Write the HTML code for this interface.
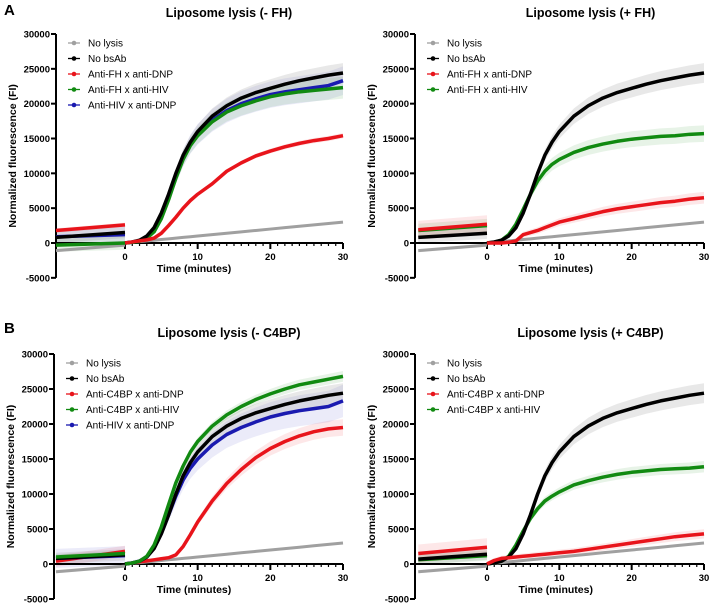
<!DOCTYPE html>
<html><head><meta charset="utf-8"><style>
body{margin:0;background:#fff;}
svg{display:block;font-family:"Liberation Sans",Arial,sans-serif;}
</style></head><body>
<svg id="fig" width="713" height="607" viewBox="0 0 713 607">
<text x="4" y="15" font-size="15" font-weight="bold">A</text>
<text x="4" y="333" font-size="15" font-weight="bold">B</text>
</svg>
<script>
const times=[0,1,2,3,4,5,6,7,8,9,10,12,14,16,18,20,22,24,26,28,30];
const preTimes=[-9.5,0];
const yTicks=[-5000,0,5000,10000,15000,20000,25000,30000];
const xTicks=[0,10,20,30];
const grayPre=[-1100,-300];
const grayPost=[0,100,200,300,400,500,600,700,800,900,1000,1200,1400,1600,1800,2000,2200,2400,2600,2800,3000];
const blackPost=[0,150,400,1000,2200,4300,7000,10000,12600,14500,16000,18200,19700,20800,21600,22200,22800,23300,23700,24100,24400];

// Panel A-left (-FH)
const aL_green=[0,100,250,700,1600,3500,6200,9300,12000,14000,15400,17400,18800,19700,20400,21000,21400,21700,21900,22100,22300];
const aL_blue=[0,120,300,800,1800,3800,6500,9500,12200,14200,15600,17600,19000,20000,20700,21300,21700,22000,22300,22600,23300];
const aL_red=[0,150,300,450,700,1400,2500,3700,5000,6100,7000,8500,10300,11500,12500,13200,13800,14300,14700,15000,15400];
// Panel A-right (+FH)
const aR_green=[0,100,400,1200,2700,4800,7000,8900,10300,11300,12000,13000,13700,14200,14600,14900,15100,15300,15400,15600,15700];
const aR_red=[0,0,0,100,300,1200,1500,1800,2200,2600,3000,3500,4000,4500,4900,5200,5500,5800,6000,6300,6500];
// Panel B-left (-C4BP)
const bL_green=[0,150,400,1100,2700,5300,8500,11600,14000,16000,17500,19700,21300,22500,23500,24300,25000,25600,26000,26400,26800];
const bL_blue=[0,150,400,1000,2300,4400,7000,9700,12000,13700,15000,17000,18500,19500,20300,21000,21500,21900,22200,22500,23300];
const bL_red=[0,150,300,450,600,750,900,1300,2500,4200,6000,9000,11500,13500,15200,16500,17500,18300,18900,19300,19500];
// Panel B-right (+C4BP)
const bR_green=[0,150,400,1100,2700,4700,6500,7900,9000,9700,10300,11300,11900,12400,12800,13100,13300,13500,13600,13700,13900];
const bR_red=[0,500,800,900,1000,1100,1200,1300,1400,1500,1600,1800,2100,2400,2700,3000,3300,3600,3900,4100,4300];

const C={gray:"#a0a0a0",black:"#000",red:"#e8141b",green:"#118a11",blue:"#1a1ab0"};
const BAND={gray:"rgba(160,160,160,0.15)",black:"rgba(150,150,150,0.22)",red:"rgba(232,20,27,0.10)",green:"rgba(17,138,17,0.10)",blue:"rgba(60,60,200,0.10)"};

const panels=[
 {name:"a-left",title:"Liposome lysis (- FH)",ax:56,x0:125,x30:343,y30:34,yz:243,
  legend:["No lysis","No bsAb","Anti-FH x anti-DNP","Anti-FH x anti-HIV","Anti-HIV x anti-DNP"],
  series:[["gray",grayPre,grayPost,300],["blue",[900,1200],aL_blue,1500],["green",[-300,0],aL_green,1200],["black",[800,1500],blackPost,1000],["red",[1800,2600],aL_red,400]]},
 {name:"a-right",title:"Liposome lysis (+ FH)",ax:415,x0:487,x30:704,y30:34,yz:243,
  legend:["No lysis","No bsAb","Anti-FH x anti-DNP","Anti-FH x anti-HIV"],
  series:[["gray",grayPre,grayPost,300],["green",[1800,2500],aR_green,1200],["black",[800,1400],blackPost,1000],["red",[1900,2700],aR_red,1600]]},
 {name:"b-left",title:"Liposome lysis (- C4BP)",ax:54,x0:125,x30:343,y30:354,yz:564,
  legend:["No lysis","No bsAb","Anti-C4BP x anti-DNP","Anti-C4BP x anti-HIV","Anti-HIV x anti-DNP"],
  series:[["gray",grayPre,grayPost,300],["red",[400,1800],bL_red,1000],["blue",[800,1200],bL_blue,1700],["black",[800,1300],blackPost,1000],["green",[1000,1500],bL_green,500]]},
 {name:"b-right",title:"Liposome lysis (+ C4BP)",ax:415,x0:487,x30:704,y30:354,yz:564,
  legend:["No lysis","No bsAb","Anti-C4BP x anti-DNP","Anti-C4BP x anti-HIV"],
  series:[["gray",grayPre,grayPost,300],["green",[600,1200],bR_green,900],["black",[700,1400],blackPost,1000],["red",[1500,2400],bR_red,1600]]}
];
const legendColors=["gray","black","red","green","blue"];
const NS="http://www.w3.org/2000/svg";
const svg=document.getElementById("fig");
function mk(tag,attrs,parent){const e=document.createElementNS(NS,tag);for(const k in attrs)e.setAttribute(k,attrs[k]);(parent||svg).appendChild(e);return e;}

panels.forEach(p=>{
 const g=mk("g",{});
 
 
 const sx=t=>p.x0+(p.x30-p.x0)*t/30;
 const sy=v=>p.yz+(p.y30-p.yz)*v/30000;
 const t=mk("text",{x:(p.x0+p.x30)/2-5,y:p.y30-17,"font-size":"12.5","font-weight":"bold","text-anchor":"middle"},g);
 t.textContent=p.title;
 
 
 p.series.forEach(s=>{
  const [col,pre,post,sd]=s;
  let up=[],dn=[];
  times.forEach((tt,i)=>{const e=sd*(0.2+post[i]/20000);up.push(sx(tt)+","+sy(post[i]+e));dn.unshift(sx(tt)+","+sy(post[i]-e));});
  const b=mk("polygon",{points:up.concat(dn).join(" "),fill:BAND[col]},g);
  
  
  const pu=preTimes.map((tt,i)=>sx(tt)+","+sy(pre[i]+sd*0.8)), pd=preTimes.map((tt,i)=>sx(tt)+","+sy(pre[i]-sd*0.8)).reverse();
  const b2=mk("polygon",{points:pu.concat(pd).join(" "),fill:BAND[col]},g);
  
  
 });
 const ya=mk("line",{x1:p.ax,y1:p.y30,x2:p.ax,y2:sy(-5000),stroke:"#000","stroke-width":"2"},g);
 
 
 const xa=mk("line",{x1:p.ax,y1:p.yz,x2:p.x30,y2:p.yz,stroke:"#000","stroke-width":"2"},g);
 
 
 yTicks.forEach(v=>{
  mk("line",{x1:p.ax-5,y1:sy(v),x2:p.ax,y2:sy(v),stroke:"#000","stroke-width":"2"},g);
  const l=mk("text",{x:p.ax-6,y:sy(v)+3.5,"font-size":"9.5","font-weight":"bold","text-anchor":"end"},g);
  l.textContent=v;
  
  
 });
 for(let m=1;m<30;m++){ if(m%10) mk("line",{x1:sx(m),y1:p.yz,x2:sx(m),y2:p.yz+3,stroke:"#000","stroke-width":"1.2"},g); }
 xTicks.forEach(v=>{
  mk("line",{x1:sx(v),y1:p.yz,x2:sx(v),y2:p.yz+6,stroke:"#000","stroke-width":"2"},g);
  const l=mk("text",{x:sx(v),y:p.yz+17,"font-size":"9.5","font-weight":"bold","text-anchor":"middle"},g);
  l.textContent=v;
  
  
 });
 const xt=mk("text",{x:sx(9.5),y:p.yz+29,"font-size":"10.5","font-weight":"bold","text-anchor":"middle"},g);
 xt.textContent="Time (minutes)";
 
 
 const yy=(p.y30+sy(-5000))/2;
 const yt=mk("text",{x:p.ax-40,y:yy,"font-size":"10.5","font-weight":"bold","text-anchor":"middle",transform:`rotate(-90 ${p.ax-40} ${yy})`},g);
 yt.textContent="Normalized fluorescence (FI)";
 
 
 p.series.forEach(s=>{
  const [col,pre,post]=s;
  const w=col==="gray"?3:3.5;
  const l1=mk("polyline",{points:preTimes.map((tt,i)=>sx(tt)+","+sy(pre[i])).join(" "),fill:"none",stroke:C[col],"stroke-width":w},g);
  
  
  const l2=mk("polyline",{points:times.map((tt,i)=>sx(tt)+","+sy(post[i])).join(" "),fill:"none",stroke:C[col],"stroke-width":w,"stroke-linejoin":"round"},g);
  
  
 });
 p.legend.forEach((txt,i)=>{
  const ly=p.y30+9+i*15.5, lx=p.ax+12;
  const col=legendColors[i];
  const lg=mk("g",{},g);
  
  
  mk("line",{x1:lx,y1:ly,x2:lx+12,y2:ly,stroke:C[col],"stroke-width":"1.3"},lg);
  mk("circle",{cx:lx+6,cy:ly,r:2.3,fill:C[col]},lg);
  const tx=mk("text",{x:lx+20,y:ly+3.5,"font-size":"10"},lg);
  tx.textContent=txt;
 });
});
</script>
</body></html>
